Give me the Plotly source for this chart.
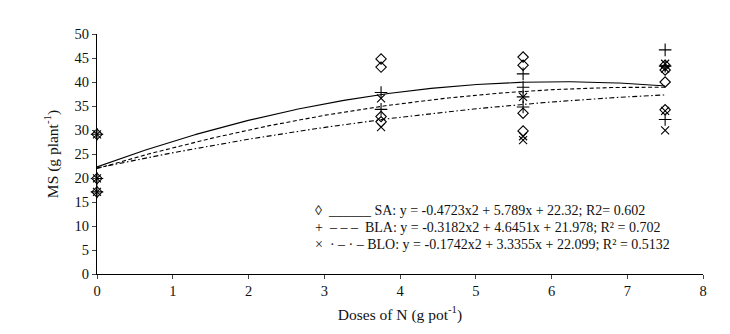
import numpy as np
import plotly.graph_objects as go

# Doses of N (g pot-1) and dry matter (g plant-1) per treatment
sa_dose = [0, 0, 0, 3.75, 3.75, 3.75, 3.75, 5.625, 5.625, 5.625, 5.625, 7.5, 7.5, 7.5, 7.5]
sa_ms = [29.1, 19.9, 17.1, 44.8, 43.1, 32.8, 31.7, 45.2, 43.5, 33.5, 29.8, 43.5, 42.5, 40.0, 34.2]

bla_dose = [0, 0, 0, 3.75, 3.75, 5.625, 5.625, 5.625, 5.625, 7.5, 7.5, 7.5]
bla_ms = [29.1, 19.9, 17.1, 37.8, 34.3, 41.7, 38.9, 36.9, 34.8, 46.7, 43.3, 32.2]

blo_dose = [0, 0, 0, 3.75, 3.75, 5.625, 5.625, 5.625, 7.5, 7.5, 7.5, 7.5]
blo_ms = [29.1, 19.9, 17.1, 36.6, 30.6, 36.9, 28.7, 27.9, 43.8, 42.8, 34.0, 29.9]

# Quadratic fits: (a, b, c) for y = a*x^2 + b*x + c
sa_fit = (-0.4723, 5.789, 22.32)
bla_fit = (-0.3182, 4.6451, 21.978)
blo_fit = (-0.1742, 3.3355, 22.099)

legend_rows = [
    "\u25ca  ______ SA: y = -0.4723x2 + 5.789x + 22.32; R2= 0.602",
    "+  \u2013 \u2013 \u2013  BLA: y = -0.3182x2 + 4.6451x + 21.978; R\u00b2 = 0.702",
    "\u00d7  \u00b7 \u2013 \u00b7 \u2013 BLO: y = -0.1742x2 + 3.3355x + 22.099; R\u00b2 = 0.5132",
]

x_ticks = list(range(0, 9))
y_ticks = list(range(0, 55, 5))

FONT = "Liberation Serif, Times New Roman, serif"

fig = go.Figure()

xs = np.linspace(0, 7.5, 200)
for (a, b, c), dash in [(sa_fit, "solid"), (bla_fit, "4px,2.5px"), (blo_fit, "5px,2.5px,1.5px,2.5px")]:
    fig.add_trace(go.Scatter(
        x=xs, y=a * xs ** 2 + b * xs + c, mode="lines",
        line=dict(color="black", width=1.1, dash=dash),
        showlegend=False, hoverinfo="skip", cliponaxis=False,
    ))

for dose, ms, symbol, size in [
    (sa_dose, sa_ms, "diamond-open", 8),
    (bla_dose, bla_ms, "cross-thin-open", 9),
    (blo_dose, blo_ms, "x-thin-open", 8),
]:
    fig.add_trace(go.Scatter(
        x=dose, y=ms, mode="markers", cliponaxis=False,
        marker=dict(symbol=symbol, size=size, color="black",
                    line=dict(color="black", width=1.1)),
        showlegend=False,
    ))

for i, row in enumerate(legend_rows):
    fig.add_annotation(
        x=2.85, y=13.2 - i * 3.55, xref="x", yref="y",
        text=row, showarrow=False, xanchor="left", yanchor="middle",
        font=dict(family=FONT, size=14, color="#111"),
    )

fig.update_layout(
    width=730, height=334,
    margin=dict(l=97, r=27, t=34, b=60),
    paper_bgcolor="white", plot_bgcolor="white",
    font=dict(family=FONT, size=14, color="#111"),
)
fig.update_xaxes(
    range=[0, 8], tickvals=x_ticks, ticks="outside", ticklen=4, tickwidth=1,
    showline=True, linecolor="black", linewidth=1, showgrid=False, zeroline=False,
    title=dict(text="Doses of N (g pot<sup>-1</sup>)", font=dict(size=15.5), standoff=10),
    tickfont=dict(size=14.5),
)
fig.update_yaxes(
    range=[0, 50], tickvals=y_ticks, ticks="outside", ticklen=4, tickwidth=1,
    showline=True, linecolor="black", linewidth=1, showgrid=False, zeroline=False,
    title=dict(text="MS (g plant<sup>-1</sup>)", font=dict(size=15.5), standoff=12),
    tickfont=dict(size=14.5),
)

fig.write_html("out.html")
